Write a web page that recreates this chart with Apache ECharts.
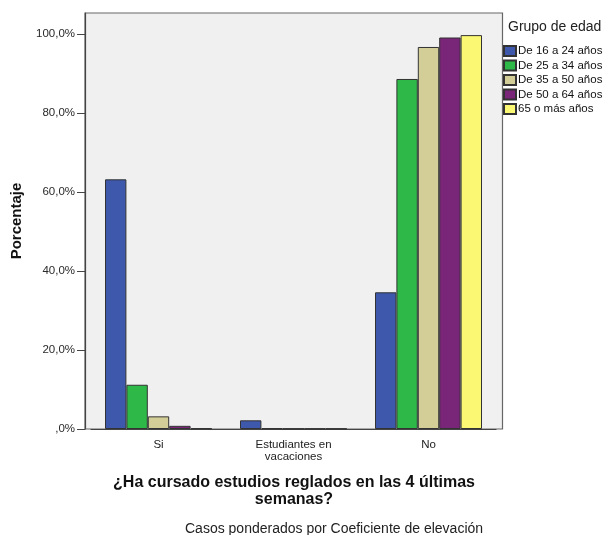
<!DOCTYPE html>
<html>
<head>
<meta charset="utf-8">
<script src="https://cdn.jsdelivr.net/npm/echarts@6/dist/echarts.min.js"></script>
<style>html,body{margin:0;padding:0;background:#fff}#c{width:605px;height:535px}</style>
</head>
<body>
<div id="c"></div>
<script>
var categories = ['Si', 'Estudiantes en\nvacaciones', 'No'];
var seriesNames = ['De 16 a 24 años', 'De 25 a 34 años', 'De 35 a 50 años', 'De 50 a 64 años', '65 o más años'];
var s16_24 = [63.2, 2.2, 34.6];
var s25_34 = [11.2, 0.2, 88.6];
var s35_50 = [3.2, 0.1, 96.7];
var s50_64 = [0.8, 0.1, 99.1];
var s65 = [0.2, 0.1, 99.7];
var yTicks = [0, 20, 40, 60, 80, 100];
var colors = ['#3e58ac', '#2eb848', '#d3ce97', '#7a2678', '#fbf873'];
var allData = [s16_24, s25_34, s35_50, s50_64, s65];

var font = 'Liberation Sans, Arial, sans-serif';
var chart = echarts.init(document.getElementById('c'));
chart.setOption({
  animation: false,
  backgroundColor: '#fff',
  color: colors,
  title: {
    text: 'Grupo de edad', left: 508, top: 20, padding: 0,
    textStyle: { fontFamily: font, fontSize: 14, fontWeight: 'normal', color: '#222' }
  },
  legend: {
    orient: 'vertical', left: 503, top: 45, itemWidth: 12, itemHeight: 10, itemGap: 2.5,
    icon: 'rect', padding: 0,
    textStyle: { fontFamily: font, fontSize: 11.5, color: '#111', padding: [0, 0, 0, -3] },
    data: seriesNames
  },
  graphic: [
    { type: 'rect', z: -1, shape: { x: 85, y: 13, width: 417.5, height: 416 },
      style: { fill: '#f0f0f0', stroke: '#666', lineWidth: 1.2 } },
    { type: 'text', x: 294, y: 474, style: {
      text: '¿Ha cursado estudios reglados en las 4 últimas\nsemanas?',
      font: 'bold 16px ' + font, fill: '#111', align: 'center', lineHeight: 17 } },
    { type: 'text', x: 185, y: 522, style: {
      text: 'Casos ponderados por Coeficiente de elevación', font: '14px ' + font, fill: '#222' } }
  ],
  grid: { left: 91, right: 109, top: 13, bottom: 106 },
  xAxis: {
    type: 'category', data: categories,
    axisLine: { lineStyle: { color: '#444', width: 1.2 } },
    axisTick: { alignWithLabel: true, length: 6, lineStyle: { color: '#444' } },
    axisLabel: { fontFamily: font, fontSize: 11.5, color: '#222', margin: 10, lineHeight: 12 }
  },
  yAxis: {
    type: 'value', min: 0, max: 105.3, interval: 20, offset: 6,
    name: 'Porcentaje', nameLocation: 'middle', nameGap: 61,
    nameTextStyle: { fontFamily: font, fontSize: 15, fontWeight: 'bold', color: '#111' },
    axisLine: { show: true, lineStyle: { color: '#444', width: 1.2 } },
    axisTick: { show: true, length: 8, customValues: yTicks, lineStyle: { color: '#444' } },
    axisLabel: {
      customValues: yTicks, fontFamily: font, fontSize: 11.5, color: '#2a2a2a', margin: 10,
      formatter: function (v) { return v === 0 ? ',0%' : v.toFixed(1).replace('.', ',') + '%'; }
    },
    splitLine: { show: false }
  },
  series: seriesNames.map(function (n, i) {
    return {
      name: n, type: 'bar', data: allData[i], barWidth: 21.4, barGap: '0%',
      itemStyle: { color: colors[i], borderColor: '#333', borderWidth: 1 }
    };
  })
});
</script>
</body>
</html>
